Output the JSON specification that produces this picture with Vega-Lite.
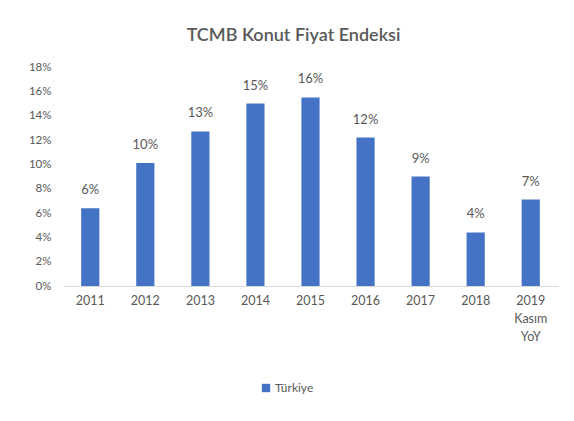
{
  "$schema": "https://vega.github.io/schema/vega-lite/v6.json",
  "autosize": "none",
  "width": 495,
  "height": 219,
  "padding": {"left": 63, "top": 67, "right": 16, "bottom": 135},
  "background": "white",
  "config": {
    "font": "Lato",
    "view": {"stroke": null}
  },
  "title": {
    "text": "TCMB Konut Fiyat Endeksi",
    "fontSize": 18,
    "fontWeight": 600,
    "color": "#595959",
    "anchor": "middle",
    "dx": -17,
    "offset": 16
  },
  "data": {
    "values": [
      {"year": "2011", "value": 0.064, "label": "6%", "series": "Türkiye"},
      {"year": "2012", "value": 0.101, "label": "10%", "series": "Türkiye"},
      {"year": "2013", "value": 0.127, "label": "13%", "series": "Türkiye"},
      {"year": "2014", "value": 0.150, "label": "15%", "series": "Türkiye"},
      {"year": "2015", "value": 0.155, "label": "16%", "series": "Türkiye"},
      {"year": "2016", "value": 0.122, "label": "12%", "series": "Türkiye"},
      {"year": "2017", "value": 0.090, "label": "9%", "series": "Türkiye"},
      {"year": "2018", "value": 0.044, "label": "4%", "series": "Türkiye"},
      {"year": "2019 Kasım YoY", "value": 0.071, "label": "7%", "series": "Türkiye"}
    ]
  },
  "encoding": {
    "x": {
      "field": "year",
      "type": "nominal",
      "sort": null,
      "scale": {"paddingInner": 0.67, "paddingOuter": 0.33},
      "axis": {
        "title": null,
        "labelAngle": 0,
        "labelFontSize": 12.5,
        "labelColor": "#595959",
        "labelPadding": 8,
        "labelLineHeight": 18,
        "labelExpr": "split(datum.value, ' ')",
        "ticks": false,
        "domainColor": "#d9d9d9",
        "domainWidth": 1
      }
    },
    "y": {
      "field": "value",
      "type": "quantitative",
      "scale": {"domain": [0, 0.18]},
      "axis": {
        "title": null,
        "format": ".0%",
        "values": [0, 0.02, 0.04, 0.06, 0.08, 0.1, 0.12, 0.14, 0.16, 0.18],
        "grid": false,
        "domain": false,
        "ticks": false,
        "labelFontSize": 11.5,
        "labelColor": "#595959",
        "labelPadding": 12
      }
    }
  },
  "layer": [
    {
      "mark": {"type": "bar", "color": "#4472C4"},
      "encoding": {
        "color": {
          "field": "series",
          "type": "nominal",
          "scale": {"range": ["#4472C4"]},
          "legend": {
            "title": null,
            "orient": "none",
            "legendX": 197,
            "legendY": 315,
            "symbolType": "square",
            "symbolSize": 70,
            "labelFontSize": 12,
            "labelColor": "#595959",
            "labelOffset": 3
          }
        }
      }
    },
    {
      "mark": {"type": "text", "baseline": "bottom", "dy": -11, "fontSize": 13, "color": "#595959"},
      "encoding": {"text": {"field": "label"}}
    }
  ]
}
